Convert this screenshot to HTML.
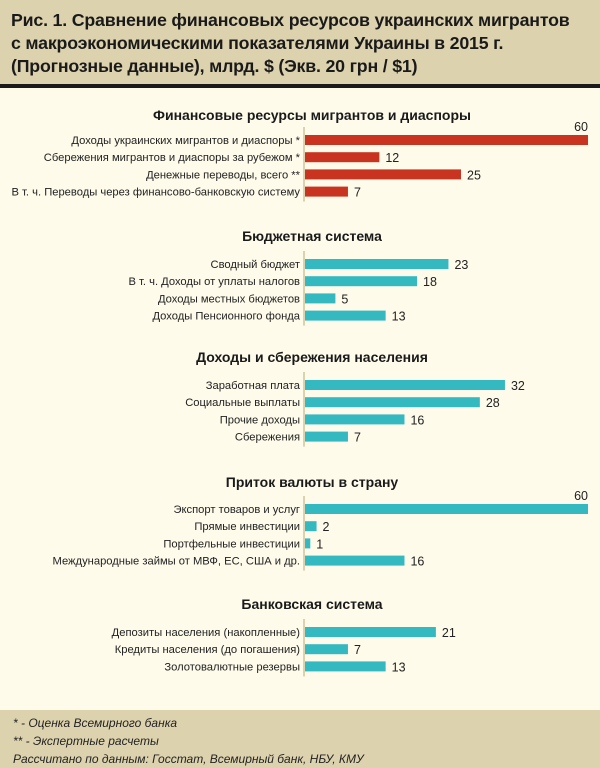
<!DOCTYPE html>
<html><head><meta charset="utf-8"><style>
body{margin:0;width:600px;height:768px;overflow:hidden;background:#fefbea;font-family:"Liberation Sans",sans-serif;}
#hdr{position:absolute;left:0;top:0;width:600px;height:84px;background:#ddd2ae;}
#hdr h1{margin:0;position:absolute;left:11px;top:9px;font-size:17.8px;line-height:23px;font-weight:bold;color:#1a1a1a;letter-spacing:-0.2px;}
#rule{position:absolute;left:0;top:84px;width:600px;height:4px;background:#1a1a1a;}
#ftr{position:absolute;left:0;top:710px;width:600px;height:58px;background:#ddd2ae;font-style:italic;font-size:12px;color:#222;}
#ftr div{position:absolute;left:13px;}
svg{position:absolute;left:0;top:0;}
</style></head><body>
<div id="hdr"><h1>Рис. 1. Сравнение финансовых ресурсов украинских мигрантов<br>с макроэкономическими показателями Украины в 2015 г.<br>(Прогнозные данные), млрд. $ (Экв. 20 грн / $1)</h1></div>
<div id="rule"></div>
<svg id="chart" width="600" height="768"></svg>
<div id="ftr">
<div style="top:6px">* - Оценка Всемирного банка</div>
<div style="top:24px">** - Экспертные расчеты</div>
<div style="top:42px">Рассчитано по данным: Госстат, Всемирный банк, НБУ, КМУ</div>
</div>
<script>
const sectionTitles=["Финансовые ресурсы мигрантов и диаспоры","Бюджетная система","Доходы и сбережения населения","Приток валюты в страну","Банковская система"];
const cat0=["Доходы украинских мигрантов и диаспоры *","Сбережения мигрантов и диаспоры за рубежом *","Денежные переводы, всего **","В т. ч. Переводы через финансово-банковскую систему"];
const val0=[60,12,25,7];
const cat1=["Сводный бюджет","В т. ч. Доходы от уплаты налогов","Доходы местных бюджетов","Доходы Пенсионного фонда"];
const val1=[23,18,5,13];
const cat2=["Заработная плата","Социальные выплаты","Прочие доходы","Сбережения"];
const val2=[32,28,16,7];
const cat3=["Экспорт товаров и услуг","Прямые инвестиции","Портфельные инвестиции","Международные займы от МВФ, ЕС, США и др."];
const val3=[60,2,1,16];
const cat4=["Депозиты населения (накопленные)","Кредиты населения (до погашения)","Золотовалютные резервы"];
const val4=[21,7,13];
const cats=[cat0,cat1,cat2,cat3,cat4];
const vals=[val0,val1,val2,val3,val4];
const titleY=[115,236,357,482,604];
const rowStart=[140,264,385,509,632];
const colors=["#c8341f","#35b9c1","#35b9c1","#35b9c1","#35b9c1"];
const X0=304,K=6.28,XMAX=588;
function x(v){return Math.min(X0+v*K,XMAX);}
const svg=document.getElementById('chart');
const NS="http://www.w3.org/2000/svg";
function el(t,a,txt){const e=document.createElementNS(NS,t);for(const k in a)e.setAttribute(k,a[k]);if(txt!==undefined)e.textContent=txt;svg.appendChild(e);return e;}
cats.forEach((cs,s)=>{
  const t=el('text',{x:312,y:titleY[s]+5,'text-anchor':'middle','font-size':'14','font-weight':'bold',fill:'#1a1a1a'},sectionTitles[s]);
  
  
  const n=cs.length,r0=rowStart[s];
  const ax=el('line',{x1:X0,x2:X0,y1:r0-13,y2:r0+(n-1)*17.2+10,stroke:'#ddd2ae','stroke-width':2});
  
  
  cs.forEach((c,i)=>{
    const y=r0+i*17.2,v=vals[s][i];
    const lb=el('text',{x:X0-4,y:y+4,'text-anchor':'end','font-size':'11.2',fill:'#222'},c);
    
    
    const b=el('rect',{x:X0+1,y:y-5,width:x(v)-X0-1,height:10,fill:colors[s]});
    
    
    const capped=X0+v*K>XMAX;
    const vl=el('text',capped?{x:XMAX,y:y-9,'text-anchor':'end','font-size':'12.5',fill:'#222'}:{x:x(v)+6,y:y+5,'font-size':'12.5',fill:'#222'},String(v));
    
    
  });
});
</script>
</body></html>
